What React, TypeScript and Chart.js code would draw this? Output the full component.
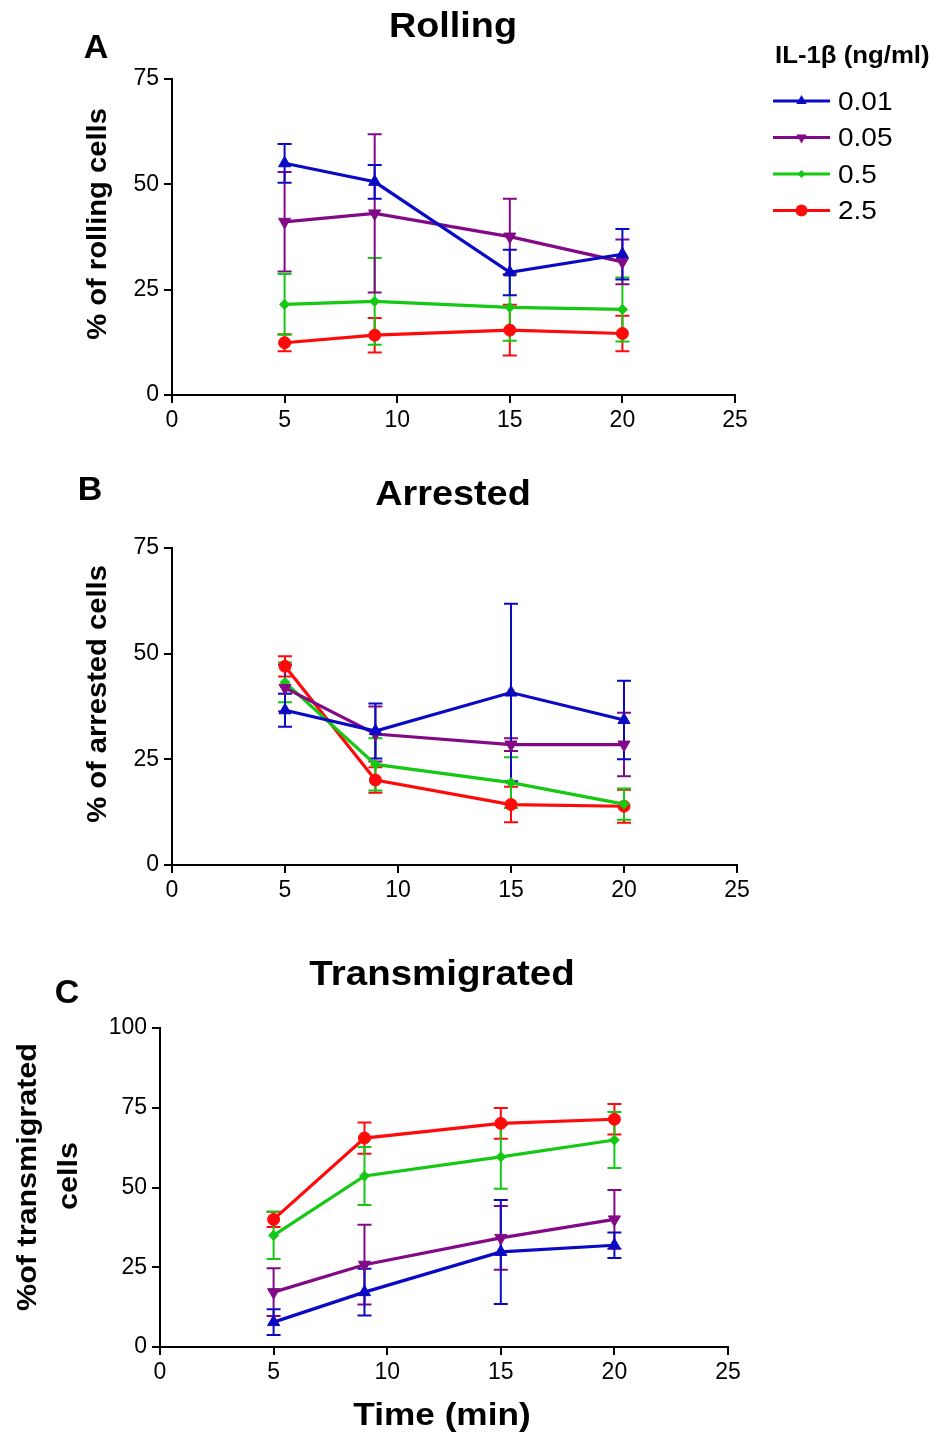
import React, { useEffect, useRef } from 'react';
import { Chart, registerables } from 'chart.js';

Chart.register(...registerables);

// ---------------- DATA ----------------
const timePoints = [5, 9, 15, 20];
const doseLabels = ['0.01', '0.05', '0.5', '2.5'];
const legendTitle = 'IL-1β (ng/ml)';

// Rolling (% of rolling cells), mean and error
const rolling001 = [55.0, 50.6, 29.1, 33.4];
const rolling001Err = [4.6, 4.0, 5.4, 6.0];
const rolling005 = [41.1, 43.1, 37.6, 31.6];
const rolling005Err = [11.8, 18.8, 9.0, 5.3];
const rolling05 = [21.5, 22.2, 20.8, 20.3];
const rolling05Err = [7.2, 10.3, 7.9, 7.6];
const rolling25 = [12.4, 14.2, 15.4, 14.6];
const rolling25Err = [2.0, 4.1, 6.0, 4.2];

// Arrested (% of arrested cells)
const arrested001 = [36.6, 31.7, 40.8, 34.3];
const arrested001Err = [3.9, 6.5, 21.0, 9.3];
const arrested005 = [41.9, 31.0, 28.5, 28.5];
const arrested005Err = [5.5, 6.5, 1.5, 7.5];
const arrested05 = [43.2, 23.8, 19.5, 14.4];
const arrested05Err = [4.7, 6.2, 6.0, 3.7];
const arrested25 = [47.0, 20.1, 14.3, 13.9];
const arrested25Err = [2.4, 3.0, 4.2, 3.9];

// Transmigrated (% of transmigrated cells)
const transmig001 = [7.8, 17.2, 29.8, 31.9];
const transmig001Err = [4.0, 7.3, 16.3, 4.0];
const transmig005 = [17.2, 25.8, 34.2, 40.0];
const transmig005Err = [7.5, 12.5, 10.0, 9.2];
const transmig05 = [35.0, 53.6, 59.6, 64.9];
const transmig05Err = [7.4, 9.1, 10.0, 8.8];
const transmig25 = [40.0, 65.5, 70.1, 71.4];
const transmig25Err = [2.4, 4.9, 4.8, 4.8];

// axis ranges
const xMin = 0, xMax = 25, xStep = 5;
const yStep = 25;
const rollingYMax = 75;
const arrestedYMax = 75;
const transmigYMax = 100;

// ---------------- STYLES ----------------
const FONT = '"Liberation Sans", Arial, sans-serif';
const seriesStyles = [
  { color: '#0A0AC4', pointStyle: 'triangle', rotation: 0, radius: 7 },
  { color: '#820A86', pointStyle: 'triangle', rotation: 180, radius: 7 },
  { color: '#14C814', pointStyle: 'rectRot', rotation: 0, radius: 5 },
  { color: '#FF0A0A', pointStyle: 'circle', rotation: 0, radius: 6 },
];

type TextItem = { text: string; x: number; y: number; font: string; sx?: number; rot?: number; align?: CanvasTextAlign };

function buildDatasets(means: number[][], errs: number[][]) {
  return means.map((m, i) => {
    const st = seriesStyles[i];
    return {
      label: doseLabels[i],
      data: timePoints.map((t, j) => ({ x: t, y: m[j] })),
      errors: errs[i],
      borderColor: st.color,
      backgroundColor: st.color,
      borderWidth: 3.2,
      pointStyle: st.pointStyle,
      pointRotation: st.rotation,
      pointRadius: st.radius,
      pointBorderWidth: 1,
      pointBackgroundColor: st.color,
      pointBorderColor: st.color,
      tension: 0,
    };
  });
}

const errorBarPlugin = {
  id: 'errorBars',
  beforeDatasetsDraw(chart: any) {
    const ctx = chart.ctx;
    const ys = chart.scales.y;
    for (let i = chart.data.datasets.length - 1; i >= 0; i--) {
      const ds = chart.data.datasets[i];
      const meta = chart.getDatasetMeta(i);
      ctx.save();
      ctx.strokeStyle = ds.borderColor;
      ctx.lineWidth = 2;
      meta.data.forEach((pt: any, j: number) => {
        const v = ds.data[j].y;
        const e = ds.errors[j];
        const top = ys.getPixelForValue(v + e);
        const bot = ys.getPixelForValue(v - e);
        ctx.beginPath();
        ctx.moveTo(pt.x, top);
        ctx.lineTo(pt.x, bot);
        ctx.moveTo(pt.x - 7, top);
        ctx.lineTo(pt.x + 7, top);
        ctx.moveTo(pt.x - 7, bot);
        ctx.lineTo(pt.x + 7, bot);
        ctx.stroke();
      });
      ctx.restore();
    }
  },
};

function drawMarker(ctx: CanvasRenderingContext2D, style: string, rot: number, x: number, y: number, r: number) {
  ctx.beginPath();
  if (style === 'circle') {
    ctx.arc(x, y, r, 0, Math.PI * 2);
  } else if (style === 'rectRot') {
    ctx.moveTo(x, y - r);
    ctx.lineTo(x + r, y);
    ctx.lineTo(x, y + r);
    ctx.lineTo(x - r, y);
    ctx.closePath();
  } else {
    let a = (rot * Math.PI) / 180;
    ctx.moveTo(x + Math.sin(a) * r, y - Math.cos(a) * r);
    a += (2 * Math.PI) / 3;
    ctx.lineTo(x + Math.sin(a) * r, y - Math.cos(a) * r);
    a += (2 * Math.PI) / 3;
    ctx.lineTo(x + Math.sin(a) * r, y - Math.cos(a) * r);
    ctx.closePath();
  }
  ctx.fill();
}

function makeTextPlugin(items: TextItem[], withLegend: boolean) {
  return {
    id: 'panelText',
    afterDraw(chart: any) {
      const ctx = chart.ctx;
      items.forEach((it) => {
        ctx.save();
        ctx.translate(it.x, it.y);
        if (it.rot) ctx.rotate(it.rot);
        ctx.scale(it.sx || 1, 1);
        ctx.font = it.font;
        ctx.fillStyle = '#000';
        ctx.textAlign = it.align || 'center';
        ctx.textBaseline = 'middle';
        ctx.fillText(it.text, 0, 0);
        ctx.restore();
      });
      if (withLegend) {
        ctx.save();
        ctx.translate(775, 57);
        ctx.scale(1.12, 1);
        ctx.font = `bold 23px ${FONT}`;
        ctx.fillStyle = '#000';
        ctx.textAlign = 'left';
        ctx.textBaseline = 'middle';
        ctx.fillText(legendTitle, 0, 0);
        ctx.restore();
        chart.data.datasets.forEach((ds: any, i: number) => {
          const st = seriesStyles[i];
          const y = 101 + i * 36.5;
          ctx.save();
          ctx.strokeStyle = st.color;
          ctx.fillStyle = st.color;
          ctx.lineWidth = 3;
          ctx.beginPath();
          ctx.moveTo(773, y);
          ctx.lineTo(830, y);
          ctx.stroke();
          drawMarker(ctx, st.pointStyle, st.rotation, 801.5, y, st.pointStyle === 'rectRot' ? 4 : 6);
          ctx.restore();
          ctx.save();
          ctx.translate(838, y + 2);
          ctx.scale(1.12, 1);
          ctx.font = `25px ${FONT}`;
          ctx.fillStyle = '#000';
          ctx.textAlign = 'left';
          ctx.textBaseline = 'middle';
          ctx.fillText(ds.label, 0, 0);
          ctx.restore();
        });
      }
    },
  };
}

type PanelProps = {
  top: number;
  height: number;
  padding: { left: number; top: number; right: number; bottom: number };
  yMax: number;
  means: number[][];
  errs: number[][];
  texts: TextItem[];
  legend?: boolean;
};

function Panel({ top, height, padding, yMax, means, errs, texts, legend }: PanelProps) {
  const ref = useRef<HTMLCanvasElement | null>(null);
  useEffect(() => {
    if (!ref.current) return;
    const tickFont = { family: FONT, size: 23 };
    const chart = new Chart(ref.current, {
      type: 'line',
      data: { datasets: buildDatasets(means, errs) as any },
      options: {
        animation: false,
        responsive: false,
        devicePixelRatio: 1,
        layout: { padding },
        plugins: { legend: { display: false }, tooltip: { enabled: false }, title: { display: false } },
        scales: {
          x: {
            type: 'linear',
            min: xMin,
            max: xMax,
            afterFit: (s: any) => { s.height = 40; },
            border: { color: '#000', width: 2 },
            grid: { drawOnChartArea: false, drawTicks: true, tickLength: 8, color: '#000', lineWidth: 2 },
            ticks: { stepSize: xStep, color: '#000', font: tickFont, padding: 4, maxRotation: 0 },
          },
          y: {
            type: 'linear',
            min: 0,
            max: yMax,
            afterFit: (s: any) => { s.width = 60; },
            border: { color: '#000', width: 2 },
            grid: { drawOnChartArea: false, drawTicks: true, tickLength: 8, color: '#000', lineWidth: 2 },
            ticks: { stepSize: yStep, color: '#000', font: tickFont, padding: 5 },
          },
        },
      },
      plugins: [errorBarPlugin, makeTextPlugin(texts, !!legend)],
    });
    return () => chart.destroy();
  }, []);
  return (
    <canvas
      ref={ref}
      width={937}
      height={height}
      style={{ position: 'absolute', left: 0, top, width: 937, height }}
    />
  );
}

const bold = (s: number) => `bold ${s}px ${FONT}`;

export default function App() {
  return (
    <div style={{ position: 'absolute', left: 0, top: 0, width: 937, height: 1432, background: '#fff', overflow: 'hidden' }}>
      <Panel
        top={0}
        height={450}
        padding={{ left: 112, top: 79, right: 202, bottom: 15 }}
        yMax={rollingYMax}
        means={[rolling001, rolling005, rolling05, rolling25]}
        errs={[rolling001Err, rolling005Err, rolling05Err, rolling25Err]}
        legend
        texts={[
          { text: 'A', x: 96, y: 49, font: bold(34) },
          { text: 'Rolling', x: 453, y: 27, font: bold(35), sx: 1.08 },
          { text: '% of rolling cells', x: 99, y: 224, font: bold(27), sx: 1.08, rot: -Math.PI / 2 },
        ]}
      />
      <Panel
        top={450}
        height={460}
        padding={{ left: 112, top: 98, right: 200, bottom: 5 }}
        yMax={arrestedYMax}
        means={[arrested001, arrested005, arrested05, arrested25]}
        errs={[arrested001Err, arrested005Err, arrested05Err, arrested25Err]}
        texts={[
          { text: 'B', x: 90, y: 41, font: bold(34) },
          { text: 'Arrested', x: 453, y: 45, font: bold(35), sx: 1.08 },
          { text: '% of arrested cells', x: 99, y: 244, font: bold(27), sx: 1.08, rot: -Math.PI / 2 },
        ]}
      />
      <Panel
        top={910}
        height={522}
        padding={{ left: 100, top: 118, right: 209, bottom: 45 }}
        yMax={transmigYMax}
        means={[transmig001, transmig005, transmig05, transmig25]}
        errs={[transmig001Err, transmig005Err, transmig05Err, transmig25Err]}
        texts={[
          { text: 'C', x: 67, y: 84, font: bold(34) },
          { text: 'Transmigrated', x: 442, y: 65, font: bold(35), sx: 1.1 },
          { text: '%of transmigrated', x: 29, y: 267, font: bold(27), sx: 1.13, rot: -Math.PI / 2 },
          { text: 'cells', x: 70, y: 266, font: bold(27), sx: 1.13, rot: -Math.PI / 2 },
          { text: 'Time (min)', x: 442, y: 506, font: bold(32), sx: 1.1 },
        ]}
      />
    </div>
  );
}
